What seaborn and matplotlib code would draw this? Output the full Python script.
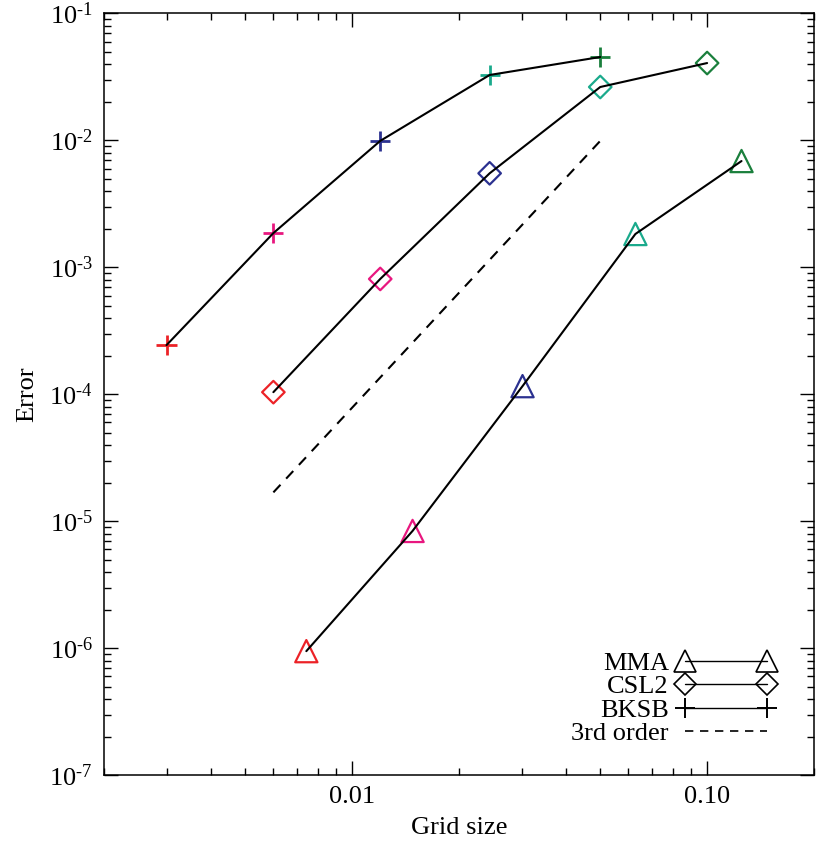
import numpy as np
import pandas as pd
import matplotlib
matplotlib.use("Agg")
import matplotlib.pyplot as plt
from matplotlib.lines import Line2D
from matplotlib.ticker import FixedLocator, FuncFormatter, LogLocator, NullFormatter
import seaborn as sns

# ------------------------------------------------------------------
# Data (grid size vs error, log-log)
# ------------------------------------------------------------------
mma_grid = [0.00743, 0.0148, 0.0302, 0.0628, 0.125]
mma_err = [9.5e-7, 8.4e-6, 1.16e-4, 1.83e-3, 6.87e-3]

csl2_grid = [0.006, 0.012, 0.0244, 0.050, 0.100]
csl2_err = [1.04e-4, 8.1e-4, 5.5e-3, 2.63e-2, 4.06e-2]

bksb_grid = [0.003, 0.006, 0.012, 0.0244, 0.050]
bksb_err = [2.44e-4, 1.86e-3, 9.9e-3, 3.27e-2, 4.53e-2]

ref_grid = [0.006, 0.050]
ref_err = [1.69e-5, 9.9e-3]

# colour of the n-th point of each series (left to right)
point_colors = ["#ec2227", "#e8177f", "#2b3190", "#1aaa8c", "#1a7f3c"]

series_names = ["MMA", "CSL2", "BKSB", "3rd order"]
y_ticks = [1e-7, 1e-6, 1e-5, 1e-4, 1e-3, 1e-2, 1e-1]
x_ticks = [0.01, 0.10]

# ------------------------------------------------------------------
# Style
# ------------------------------------------------------------------
sns.set_style("ticks")
plt.rcParams["font.family"] = ["Liberation Serif", "DejaVu Serif"]
plt.rcParams["mathtext.fontset"] = "custom"
plt.rcParams["mathtext.rm"] = "Liberation Serif"
plt.rcParams["font.size"] = 19
for key in ("text.color", "axes.labelcolor", "xtick.color", "ytick.color",
            "axes.edgecolor"):
    plt.rcParams[key] = "black"

fig = plt.figure(figsize=(8.17, 8.55), dpi=100)
ax = fig.add_axes([0.1273, 0.0932, 0.8690, 0.8912])

df_mma = pd.DataFrame({"grid": mma_grid, "err": mma_err})
df_csl2 = pd.DataFrame({"grid": csl2_grid, "err": csl2_err})
df_bksb = pd.DataFrame({"grid": bksb_grid, "err": bksb_err})

# black connecting lines
for df in (df_mma, df_csl2, df_bksb):
    sns.lineplot(data=df, x="grid", y="err", color="k", lw=1.5, sort=False,
                 estimator=None, ax=ax, legend=False)
sns.lineplot(x=ref_grid, y=ref_err, color="k", lw=1.5, ax=ax, legend=False,
             linestyle=(0, (5, 4)))

# coloured open markers
ax.scatter(mma_grid, mma_err, marker="^", s=256, facecolors="none",
           edgecolors=point_colors, linewidths=1.6, zorder=1)
ax.scatter(csl2_grid, csl2_err, marker="D", s=132, facecolors="none",
           edgecolors=point_colors, linewidths=1.6, zorder=1)
ax.scatter(bksb_grid, bksb_err, marker="+", s=210, c=point_colors,
           linewidths=2.0, zorder=1)

ax.set_xscale("log")
ax.set_yscale("log")
ax.set_xlim(0.002, 0.2)
ax.set_ylim(1e-7, 1e-1)

ax.xaxis.set_major_locator(FixedLocator(x_ticks))
ax.xaxis.set_major_formatter(FuncFormatter(lambda v, p: f"{v:.2f}"))
ax.xaxis.set_minor_locator(LogLocator(base=10, subs=np.arange(2, 10), numticks=20))
ax.xaxis.set_minor_formatter(NullFormatter())

ax.yaxis.set_major_locator(FixedLocator(y_ticks))
ax.yaxis.set_major_formatter(FuncFormatter(
    lambda v, p: r"$\mathregular{10^{\text{-}%d}}$" % abs(int(round(np.log10(v))))))
ax.yaxis.set_minor_locator(LogLocator(base=10, subs=np.arange(2, 10), numticks=20))
ax.yaxis.set_minor_formatter(NullFormatter())

ax.tick_params(which="both", direction="in", top=True, right=True, width=1,
               color="k", labelsize=19, labelcolor="k")
ax.tick_params(which="major", length=10, pad=8)
ax.tick_params(which="minor", length=5)
for sp in ax.spines.values():
    sp.set_linewidth(1.1)
    sp.set_color("k")

ax.set_xlabel("Grid size", fontsize=19, labelpad=6, color="k")
ax.set_ylabel("Error", fontsize=19, labelpad=8, color="k")

# legend: text on the left, black sample line with markers at both ends
handles = [
    Line2D([], [], color="k", lw=1, marker="^", ms=16, mfc="none", mec="k", mew=1.2),
    Line2D([], [], color="k", lw=1, marker="D", ms=11, mfc="none", mec="k", mew=1.2),
    Line2D([], [], color="k", lw=1, marker="+", ms=15, mec="k", mew=1.4),
    Line2D([], [], color="k", lw=1.2, linestyle=(0, (5, 4))),
]
leg = ax.legend(handles, series_names, loc="lower right", bbox_to_anchor=(0.963, 0.022),
                frameon=False, markerfirst=False, numpoints=2, handlelength=3.7,
                handletextpad=0.3, labelspacing=0.0, borderpad=0, fontsize=19)
for t in leg.get_texts():
    t.set_color("k")

fig.savefig("out.png", dpi=100)
